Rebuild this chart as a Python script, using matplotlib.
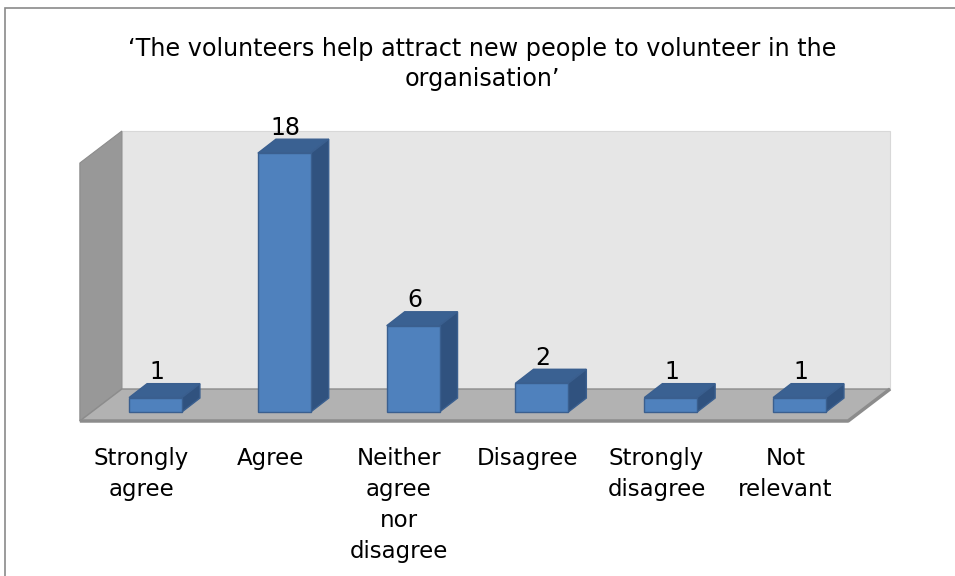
import matplotlib.pyplot as plt
import numpy as np
from matplotlib.patches import Polygon, Rectangle

plt.rcParams['font.family'] = ['DejaVu Sans']

categories = ['Strongly\nagree', 'Agree', 'Neither\nagree\nnor\ndisagree',
              'Disagree', 'Strongly\ndisagree', 'Not\nrelevant']
counts = [1, 18, 6, 2, 1, 1]
title = '\u2018The volunteers help attract new people to volunteer in the\norganisation\u2019'

# colours of the 3d box faces
front_col, top_col, side_col, edge_col = '#4f81bd', '#3a6192', '#30527f', '#3a5f8f'
wall_col, lwall_col, floor_col = '#e6e6e6', '#989898', '#b2b2b2'

fig = plt.figure(figsize=(9.55, 5.76), dpi=100)
ax = fig.add_axes([0, 0, 1, 1])
ax.set_xlim(-1.207, 6.207)
ax.set_ylim(-11.405, 28.65)
ax.axis('off')

# outer chart frame
fig.patches.append(Rectangle((5 / 955, -0.05), 1.1, 1.05 - 8 / 576, transform=fig.transFigure,
                             fill=False, edgecolor='#8a8a8a', lw=1.2))

# walls and floor
dx, dy = 0.326, 2.225          # depth of the floor
x0, x1 = -0.587, 5.377         # floor front edge
f0 = -0.626                    # floor front level
top = 19.54                    # back wall top
ax.add_patch(Polygon([(x0 + dx, f0 + dy), (x1 + dx, f0 + dy), (x1 + dx, top), (x0 + dx, top)],
                     closed=True, facecolor=wall_col, edgecolor='#d8d8d8', lw=0.8))
ax.add_patch(Polygon([(x0, f0), (x0 + dx, f0 + dy), (x0 + dx, top), (x0, top - dy)],
                     closed=True, facecolor=lwall_col, edgecolor='#8c8c8c', lw=0.8))
ax.add_patch(Polygon([(x0, f0), (x1, f0), (x1 + dx, f0 + dy), (x0 + dx, f0 + dy)],
                     closed=True, facecolor=floor_col, edgecolor='#8c8c8c', lw=1.0))
ax.plot([x0, x1, x1 + dx], [f0, f0, f0 + dy], color='#8c8c8c', lw=2.5, solid_capstyle='butt')

# bars as boxes
w = 0.205
bx, by = 0.14, 0.97
xs = np.arange(len(counts))
for x, v in zip(xs, counts):
    l, r = x - w, x + w
    ax.add_patch(Polygon([(l, v), (r, v), (r + bx, v + by), (l + bx, v + by)],
                         closed=True, facecolor=top_col, edgecolor=edge_col, lw=1))
    ax.add_patch(Polygon([(r, 0), (r + bx, by), (r + bx, v + by), (r, v)],
                         closed=True, facecolor=side_col, edgecolor=edge_col, lw=1))
    ax.add_patch(Rectangle((l, 0), 2 * w, v, facecolor=front_col, edgecolor=edge_col, lw=1))
    ax.text(x + 0.01, v + by - 0.05, str(v), ha='center', va='bottom', fontsize=17, color='black')

for x, c in zip(xs, categories):
    ax.text(x - 0.11, -2.4, c, ha='center', va='top', fontsize=16.5, linespacing=1.45)

fig.text(0.505, 1 - 37 / 576, title, ha='center', va='top', fontsize=17.2, linespacing=1.3)

fig.savefig('out.png', dpi=100)
